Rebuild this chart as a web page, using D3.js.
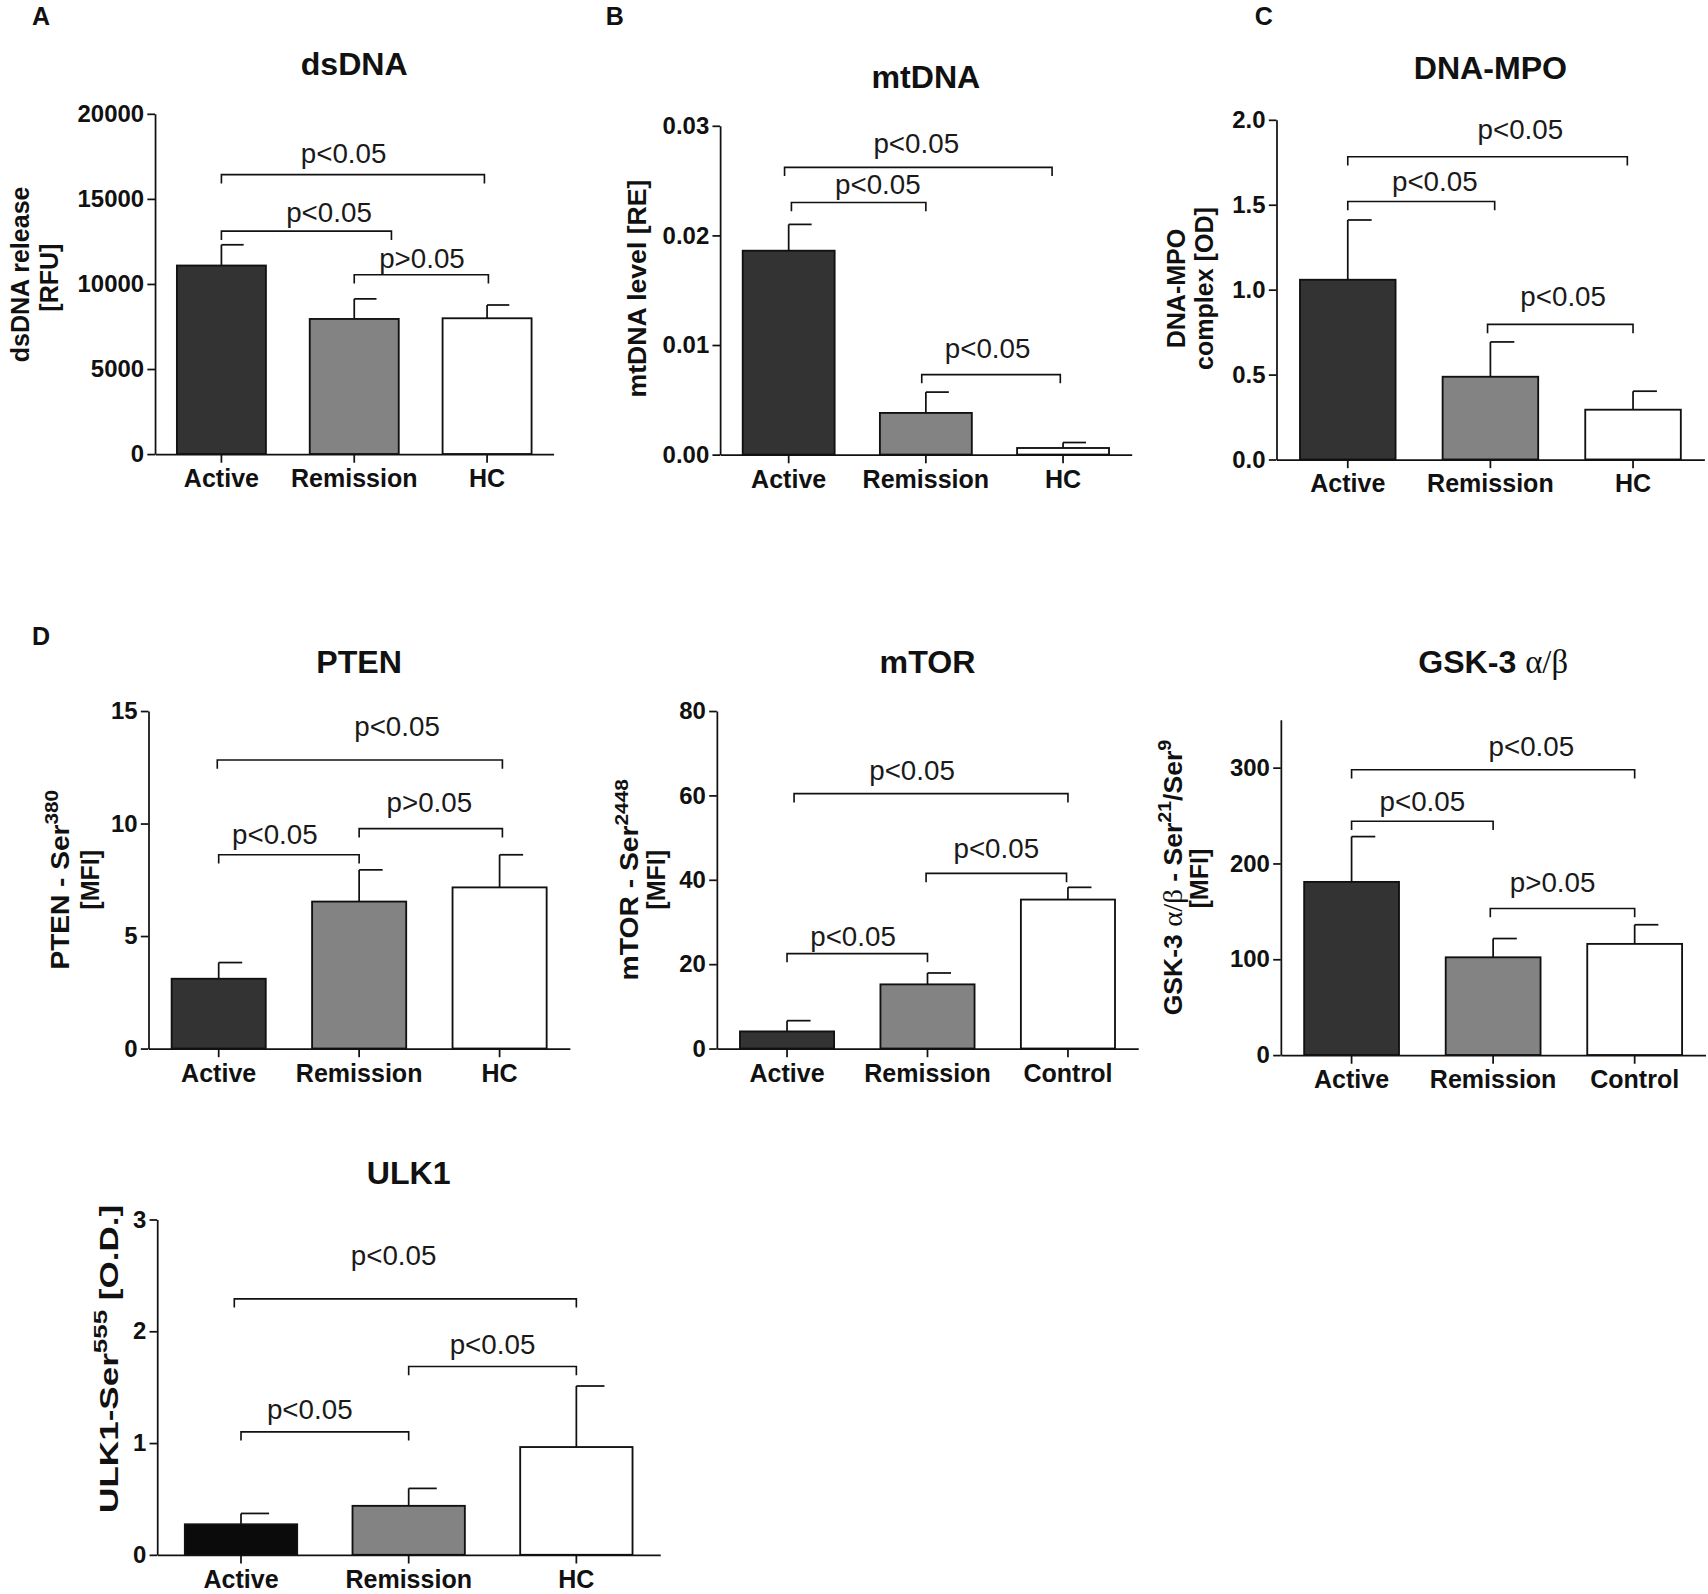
<!DOCTYPE html>
<html>
<head>
<meta charset="utf-8">
<script src="https://cdn.jsdelivr.net/npm/d3@7"></script>
<style>
  body { margin: 0; background: #fff; }
  svg { display: block; font-family: 'Liberation Sans', Arial, sans-serif; }
</style>
</head>
<body>
<svg id="chart"></svg>
<script>
/* Group names */
const groupsHC = ['Active', 'Remission', 'HC'];
const groupsCtrl = ['Active', 'Remission', 'Control'];

/* A - dsDNA release [RFU] (mean, mean + SEM) */
const dsdnaMean = [11080, 7940, 7980];
const dsdnaUpper = [12300, 9120, 8760];
const dsdnaTicks = [0, 5000, 10000, 15000, 20000];
// from / to / lx are group positions (0 = first group), at / ly are in data units
const dsdnaPairs = [
  { from: 0, to: 1.98, at: 16420, label: 'p<0.05', lx: 0.92, ly: 17130 },
  { from: 0, to: 1.28, at: 13100, label: 'p<0.05', lx: 0.81, ly: 13610 },
  { from: 1, to: 2.01, at: 10540, label: 'p>0.05', lx: 1.51, ly: 10930 },
];

/* B - mtDNA level [RE] */
const mtdnaMean = [0.0186, 0.0038, 0.0006];
const mtdnaUpper = [0.0210, 0.0057, 0.0011];
const mtdnaTicks = [0, 0.01, 0.02, 0.03];
const mtdnaPairs = [
  { from: -0.03, to: 1.92, at: 0.0262, label: 'p<0.05', lx: 0.93, ly: 0.0275 },
  { from: 0.02, to: 1.0, at: 0.0230, label: 'p<0.05', lx: 0.65, ly: 0.0238 },
  { from: 0.97, to: 1.98, at: 0.0073, label: 'p<0.05', lx: 1.45, ly: 0.0088 },
];

/* C - DNA-MPO complex [OD] */
const mpoMean = [1.058, 0.487, 0.293];
const mpoUpper = [1.41, 0.692, 0.402];
const mpoTicks = [0, 0.5, 1, 1.5, 2];
const mpoPairs = [
  { from: 0, to: 1.96, at: 1.782, label: 'p<0.05', lx: 1.21, ly: 1.885 },
  { from: 0, to: 1.03, at: 1.519, label: 'p<0.05', lx: 0.61, ly: 1.583 },
  { from: 0.98, to: 2.0, at: 0.795, label: 'p<0.05', lx: 1.51, ly: 0.904 },
];

/* D - PTEN-Ser380 [MFI] */
const ptenMean = [3.10, 6.53, 7.16];
const ptenUpper = [3.82, 7.94, 8.61];
const ptenTicks = [0, 5, 10, 15];
const ptenPairs = [
  { from: -0.01, to: 2.02, at: 12.82, label: 'p<0.05', lx: 1.27, ly: 13.89 },
  { from: 0, to: 1.0, at: 8.61, label: 'p<0.05', lx: 0.40, ly: 9.10 },
  { from: 1.0, to: 2.02, at: 9.77, label: 'p>0.05', lx: 1.50, ly: 10.50 },
];

/* D - mTOR-Ser2448 [MFI] */
const mtorMean = [4.05, 15.2, 35.3];
const mtorUpper = [6.6, 17.9, 38.2];
const mtorTicks = [0, 20, 40, 60, 80];
const mtorPairs = [
  { from: 0.05, to: 2.0, at: 60.4, label: 'p<0.05', lx: 0.89, ly: 63.7 },
  { from: 0.99, to: 1.99, at: 41.5, label: 'p<0.05', lx: 1.49, ly: 45.2 },
  { from: 0, to: 1.0, at: 22.5, label: 'p<0.05', lx: 0.47, ly: 24.3 },
];

/* D - GSK-3 a/b Ser21/Ser9 [MFI] */
const gskMean = [180.7, 102, 116];
const gskUpper = [228, 121.6, 136];
const gskTicks = [0, 100, 200, 300];
const gskPairs = [
  { from: 0, to: 2.0, at: 297.7, label: 'p<0.05', lx: 1.27, ly: 312.5 },
  { from: 0, to: 1.0, at: 244, label: 'p<0.05', lx: 0.50, ly: 254.5 },
  { from: 0.98, to: 2.0, at: 153, label: 'p>0.05', lx: 1.42, ly: 170 },
];

/* D - ULK1-Ser555 [O.D.] */
const ulkMean = [0.273, 0.438, 0.964];
const ulkUpper = [0.37, 0.594, 1.51];
const ulkTicks = [0, 1, 2, 3];
const ulkPairs = [
  { from: -0.04, to: 2.0, at: 2.29, label: 'p<0.05', lx: 0.91, ly: 2.59 },
  { from: 1.0, to: 2.0, at: 1.685, label: 'p<0.05', lx: 1.50, ly: 1.80 },
  { from: 0, to: 1.0, at: 1.10, label: 'p<0.05', lx: 0.41, ly: 1.217 },
];

const FILLS = ['#333333', '#838383', '#ffffff'];
const FILLS_ULK = ['#0b0b0b', '#838383', '#ffffff'];
const SERIF = "'Liberation Serif', 'DejaVu Serif', serif";

// drawn in a 1568 x 1464 frame, scaled to the page
const W = 1708, H = 1594;
const svg = d3.select('#chart')
  .attr('width', W)
  .attr('height', H)
  .attr('viewBox', '0 0 1568 1464');

svg.append('rect').attr('width', 1568).attr('height', 1464).attr('fill', '#fff');

// text made of plain / superscript / serif pieces
const addSegs = (text, segs) => {
  let shift = 0;
  segs.forEach(s => {
    const ts = text.append('tspan').text(s.t);
    const target = s.sup ? -10 : 0;
    if (target !== shift) { ts.attr('dy', target - shift); shift = target; }
    if (s.sup) ts.attr('font-size', 17);
    if (s.serif) ts.attr('font-family', SERIF).attr('font-weight', 'normal').attr('font-size', s.size || null);
  });
};

const drawPanel = (p) => {
  const g = svg.append('g');
  const { x0, x1, top, bottom } = p.box;

  const x = d3.scaleBand().domain(p.groups).range([x0, x1])
    .paddingInner(0.33).paddingOuter(0.165);
  const bw = x.bandwidth();
  const pos = d3.scaleLinear().domain([0, p.groups.length - 1])
    .range([x(p.groups[0]) + bw / 2, x(p.groups[p.groups.length - 1]) + bw / 2]);
  const y = d3.scaleLinear().domain(p.domain).range([bottom, top]);

  // bars
  g.selectAll('rect.bar').data(p.mean).join('rect')
    .attr('class', 'bar')
    .attr('x', (d, i) => x(p.groups[i]))
    .attr('width', bw)
    .attr('y', d => y(d))
    .attr('height', d => y(0) - y(d))
    .attr('fill', (d, i) => p.fills[i])
    .attr('stroke', '#111')
    .attr('stroke-width', 1.7);

  // error bars (upper only, half cap on the right)
  const eb = g.selectAll('g.err').data(p.upper).join('g').attr('class', 'err')
    .attr('stroke', '#111').attr('stroke-width', 1.6).attr('fill', 'none');
  eb.append('line')
    .attr('x1', (d, i) => pos(i)).attr('x2', (d, i) => pos(i))
    .attr('y1', (d, i) => y(p.mean[i])).attr('y2', d => y(d));
  eb.append('line')
    .attr('x1', (d, i) => pos(i)).attr('x2', (d, i) => pos(i) + bw * 0.25)
    .attr('y1', d => y(d)).attr('y2', d => y(d));

  // axes
  const yAxis = g.append('g')
    .attr('transform', `translate(${x0},0)`)
    .call(d3.axisLeft(y).tickValues(p.ticks).tickFormat(p.fmt)
      .tickSize(7).tickPadding(3).tickSizeOuter(0));
  const xAxis = g.append('g')
    .attr('transform', `translate(0,${bottom})`)
    .call(d3.axisBottom(x).tickSize(8).tickPadding(6).tickSizeOuter(0));

  [yAxis, xAxis].forEach(a => {
    a.selectAll('path.domain, line').attr('stroke', '#111').attr('stroke-width', 1.6);
    a.selectAll('text').attr('fill', '#111').attr('font-weight', 'bold')
      .attr('font-family', "'Liberation Sans', Arial, sans-serif");
  });
  yAxis.selectAll('text').attr('font-size', 22);
  xAxis.selectAll('text').attr('font-size', 23);

  // significance brackets
  const br = g.selectAll('g.pair').data(p.pairs).join('g').attr('class', 'pair');
  br.append('path')
    .attr('d', d => `M${pos(d.from)},${y(d.at) + 8}V${y(d.at)}H${pos(d.to)}V${y(d.at) + 8}`)
    .attr('fill', 'none').attr('stroke', '#111').attr('stroke-width', 1.5);
  br.append('text')
    .attr('x', d => pos(d.lx))
    .attr('y', d => y(d.ly))
    .attr('text-anchor', 'middle')
    .attr('font-size', 25.5)
    .attr('fill', '#1a1a1a')
    .text(d => d.label);

  // title
  const title = g.append('text')
    .attr('x', (x0 + x1) / 2).attr('y', p.titleY)
    .attr('text-anchor', 'middle')
    .attr('font-size', 29.5).attr('font-weight', 'bold').attr('fill', '#111');
  addSegs(title, p.title);

  // y axis title lines (optionally stretched to the length seen in the figure)
  p.ylabel.forEach(l => {
    const t = g.append('text')
      .attr('transform', `translate(${l.x},${l.y}) rotate(-90)`)
      .attr('y', 8)
      .attr('text-anchor', 'middle')
      .attr('font-size', 23).attr('font-weight', 'bold').attr('fill', '#111');
    addSegs(t, l.segs);
    if (l.len) {
      const sx = l.len / t.node().getBBox().width;
      t.attr('transform', `translate(${l.x},${l.y}) rotate(-90) scale(${sx},1)`);
    }
  });

  // panel letter
  if (p.letter) {
    g.append('text')
      .attr('x', p.letter.x).attr('y', p.letter.y)
      .attr('font-size', 23).attr('font-weight', 'bold').attr('fill', '#111')
      .text(p.letter.t);
  }
};

const intFmt = d3.format('d');

const panels = [
  {
    groups: groupsHC, mean: dsdnaMean, upper: dsdnaUpper, ticks: dsdnaTicks, domain: [0, 20000],
    fmt: intFmt, pairs: dsdnaPairs, fills: FILLS,
    box: { x0: 142, x1: 508, top: 104.5, bottom: 417 },
    title: [{ t: 'dsDNA' }], titleY: 69,
    ylabel: [
      { x: 18, y: 252, segs: [{ t: 'dsDNA release' }] },
      { x: 45, y: 255, segs: [{ t: '[RFU]' }] },
    ],
    letter: { t: 'A', x: 29, y: 23 },
  },
  {
    groups: groupsHC, mean: mtdnaMean, upper: mtdnaUpper, ticks: mtdnaTicks, domain: [0, 0.03],
    fmt: d3.format('.2f'), pairs: mtdnaPairs, fills: FILLS,
    box: { x0: 661, x1: 1039, top: 115.5, bottom: 417.5 },
    title: [{ t: 'mtDNA' }], titleY: 81,
    ylabel: [{ x: 585, y: 265, len: 200, segs: [{ t: 'mtDNA level [RE]' }] }],
    letter: { t: 'B', x: 556, y: 23 },
  },
  {
    groups: groupsHC, mean: mpoMean, upper: mpoUpper, ticks: mpoTicks, domain: [0, 2],
    fmt: d3.format('.1f'), pairs: mpoPairs, fills: FILLS,
    box: { x0: 1172, x1: 1565, top: 110, bottom: 422 },
    title: [{ t: 'DNA-MPO' }], titleY: 73,
    ylabel: [
      { x: 1080, y: 265, segs: [{ t: 'DNA-MPO' }] },
      { x: 1106, y: 265, segs: [{ t: 'complex [OD]' }] },
    ],
    letter: { t: 'C', x: 1152, y: 23 },
  },
  {
    groups: groupsHC, mean: ptenMean, upper: ptenUpper, ticks: ptenTicks, domain: [0, 15],
    fmt: intFmt, pairs: ptenPairs, fills: FILLS,
    box: { x0: 136, x1: 523, top: 653, bottom: 963 },
    title: [{ t: 'PTEN' }], titleY: 618,
    ylabel: [
      { x: 55, y: 808, len: 165, segs: [{ t: 'PTEN - Ser' }, { t: '380', sup: true }] },
      { x: 83, y: 808, segs: [{ t: '[MFI]' }] },
    ],
    letter: { t: 'D', x: 29, y: 592 },
  },
  {
    groups: groupsCtrl, mean: mtorMean, upper: mtorUpper, ticks: mtorTicks, domain: [0, 80],
    fmt: intFmt, pairs: mtorPairs, fills: FILLS,
    box: { x0: 658, x1: 1045, top: 653, bottom: 963 },
    title: [{ t: 'mTOR' }], titleY: 618,
    ylabel: [
      { x: 578, y: 808, len: 185, segs: [{ t: 'mTOR - Ser' }, { t: '2448', sup: true }] },
      { x: 602, y: 808, segs: [{ t: '[MFI]' }] },
    ],
  },
  {
    groups: groupsCtrl, mean: gskMean, upper: gskUpper, ticks: gskTicks, domain: [0, 350],
    fmt: intFmt, pairs: gskPairs, fills: FILLS,
    box: { x0: 1176, x1: 1566, top: 661, bottom: 969 },
    title: [{ t: 'GSK-3 ' }, { t: 'α/β', serif: true, size: 30 }], titleY: 618,
    ylabel: [
      {
        x: 1077, y: 806, len: 253, segs: [
          { t: 'GSK-3 ' }, { t: 'α/β', serif: true, size: 25 }, { t: ' - Ser' },
          { t: '21', sup: true }, { t: '/Ser' }, { t: '9', sup: true },
        ],
      },
      { x: 1101, y: 807, segs: [{ t: '[MFI]' }] },
    ],
  },
  {
    groups: groupsHC, mean: ulkMean, upper: ulkUpper, ticks: ulkTicks, domain: [0, 3],
    fmt: intFmt, pairs: ulkPairs, fills: FILLS_ULK,
    box: { x0: 144, x1: 606, top: 1120, bottom: 1428 },
    title: [{ t: 'ULK1' }], titleY: 1087,
    ylabel: [
      { x: 100, y: 1248, len: 283, segs: [{ t: 'ULK1-Ser' }, { t: '555', sup: true }, { t: ' [O.D.]' }] },
    ],
  },
];

panels.forEach(drawPanel);
</script>
</body>
</html>
